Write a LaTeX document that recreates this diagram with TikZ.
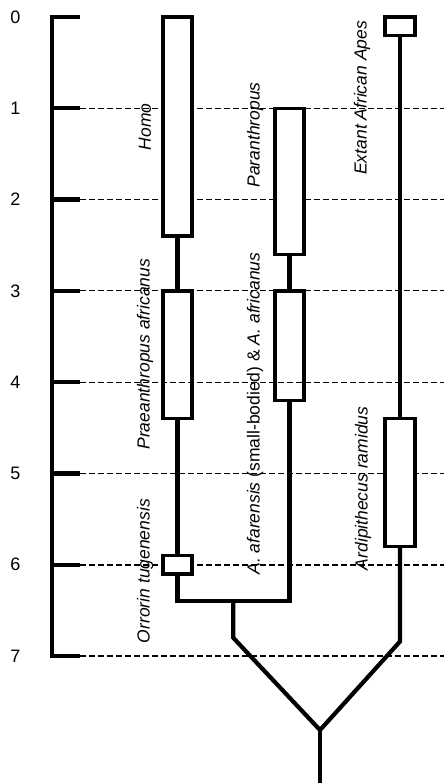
\documentclass[tikz,border=0pt]{standalone}
\usepackage{fontspec}
\setmainfont{Liberation Sans}
\usepackage{tikz}
\usetikzlibrary{fit}

\tikzset{
  taxon/.style={draw, fill=white, line width=3.4pt, inner sep=0pt},
  branch/.style={line width=4.2pt},
  ageline/.style={line width=1.2pt, dash pattern=on 5.5pt off 3.5pt},
  taxlabel/.style={rotate=90, anchor=west, inner sep=0pt,
    font=\fontsize{17.5}{20}\selectfont\itshape}
}

\begin{document}
\begin{tikzpicture}[x=1pt, y=-91.3pt]
\useasboundingbox (0,-0.186) rectangle (444,8.39);
% time scale (Myr)
\draw[line width=3.4pt] (52,0) -- (52,7);
\foreach \t in {0,...,7} {
  \draw[line width=4.2pt] (50.3,\t) -- (80,\t);
  \node[font=\fontsize{18}{20}\selectfont] (age\t) at (15.5,\t) {\t};
}
\foreach \t in {1,2,3,5,7} \draw[ageline] (80,\t) -- (444,\t);
\draw[ageline, line width=1.8pt] (80,6) -- (444,6);

% ranges
\node[taxon, fit={(163,0) (192,2.4)}] (homo) {};
\node[taxon, fit={(163,3) (192,4.4)}] (praeanthropus) {};
\node[taxon, fit={(163,5.9) (192,6.1)}] (orrorin) {};
\node[taxon, fit={(275,1) (304,2.6)}] (paranthropus) {};
\node[taxon, fit={(275,3) (304,4.2)}] (afarensis) {};
\node[taxon, fit={(385,0) (415,0.2)}] (extant) {};
\node[taxon, fit={(385,4.4) (415,5.8)}] (ardipithecus) {};
\draw[ageline] (80,4) -- (444,4);

% branching points
\coordinate (hominin) at (233.3,6.4);
\coordinate (splitL) at (233.3,6.8);
\coordinate (splitR) at (400,6.84);
\coordinate (root) at (320,7.81);
\coordinate (base) at (320,8.45);

\draw[branch] (homo) -- (praeanthropus);
\draw[branch] (praeanthropus) -- (orrorin);
\draw[branch] (paranthropus) -- (afarensis);
\draw[branch] (extant) -- (ardipithecus);
\draw[branch] (orrorin.south) |- (hominin) -| (afarensis.south);
\draw[branch] (hominin) -- (splitL) -- (root) -- (splitR) -- (ardipithecus.south);
\draw[branch] (root) -- (base);

% names
\node[taxlabel] (homoname) at (145,1.46) {Homo};
\node[taxlabel] (praeanthropusname) at (145,4.74) {Praeanthropus africanus};
\node[taxlabel] (orrorinname) at (145,6.86) {Orrorin tugenensis};
\node[taxlabel] (paranthropusname) at (255,1.87) {Paranthropus};
\node[taxlabel] (afarensisname) at (255,6.11) {A. afarensis \upshape(small-bodied) \& \itshape A. africanus};
\node[taxlabel] (extantname) at (362,1.73) {Extant African Apes};
\node[taxlabel] (ardipithecusname) at (363,6.06) {Ardipithecus ramidus};
\end{tikzpicture}
\end{document}
